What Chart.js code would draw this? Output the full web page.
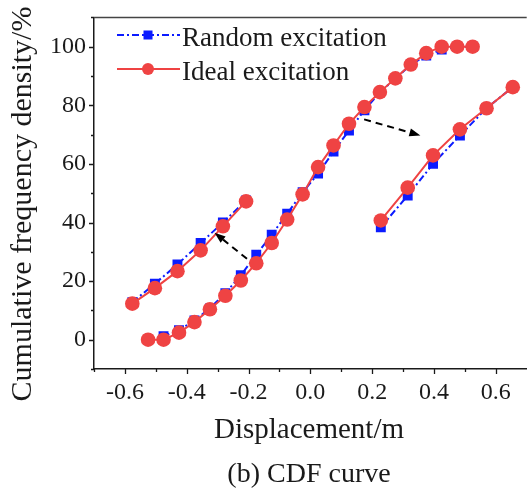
<!DOCTYPE html>
<html>
<head>
<meta charset="utf-8">
<script src="https://cdn.jsdelivr.net/npm/chart.js@4.4.0/dist/chart.umd.min.js"></script>
<style>
  html, body { margin: 0; padding: 0; background: #fff; overflow: hidden; }
  #wrap { position: absolute; left: 0; top: 0; width: 534px; height: 490px; }
</style>
</head>
<body>
<div id="wrap"><canvas id="cdf" width="534" height="490"></canvas></div>
<script>
// main CDF curves
const displacement = [-0.525, -0.475, -0.425, -0.375, -0.325, -0.275, -0.225, -0.175, -0.125, -0.075, -0.025,
                      0.025, 0.075, 0.125, 0.175, 0.225, 0.275, 0.325, 0.375, 0.425, 0.475, 0.525];
const randomCdf = [0, 1.2, 3.2, 6.6, 10.7, 15.9, 22, 29, 35.8, 43, 50.3,
                   56.7, 64.2, 71.4, 78.3, 84.5, 89, 93.9, 97, 99, 100, 100];
const idealCdf = [0, 0, 2.4, 6, 10.4, 15, 20.2, 26.1, 33, 41, 49.6,
                  58.9, 66.3, 73.7, 79.4, 84.5, 89.2, 93.9, 97.8, 100, 100, 100];

// enlarged segments drawn beside the curve
const leftZoomX = [-0.576, -0.503, -0.43, -0.355, -0.283, -0.208];
const leftZoomRandom = [12.8, 19.1, 25.7, 33, 40, 47.5];
const leftZoomIdeal = [12.3, 17.6, 23.4, 30.5, 38.7, 47.2];
const rightZoomX = [0.228, 0.315, 0.397, 0.484, 0.57, 0.655];
const rightZoomRandom = [38.4, 49.2, 60, 69.7, 79, 86.2];
const rightZoomIdeal = [40.7, 51.9, 62.9, 71.8, 79, 86.2];

// arrows: [fromX, fromY, toX, toY]
const arrows = [[-0.205, 27.6, -0.31, 36.5], [0.174, 75.2, 0.356, 69.7]];

const xTicks = [-0.6, -0.4, -0.2, 0.0, 0.2, 0.4, 0.6];
const xMinorTicks = [-0.7, -0.5, -0.3, -0.1, 0.1, 0.3, 0.5];
const yTicks = [0, 20, 40, 60, 80, 100];
const yMinorTicks = [-10, 10, 30, 50, 70, 90, 110];
const seriesNames = ['Random excitation', 'Ideal excitation'];

const BLUE = '#0b1bff';
const RED = '#ef4343';
const INK = '#1a1a1a';
const SERIF = '"Liberation Serif", "Times New Roman", serif';
const DASHDOT = [7, 3, 2, 3];

const pts = (xs, ys) => xs.map((x, i) => ({ x: x, y: ys[i] }));

function randomSet(data) {
  return {
    data: data, showLine: true, order: 2,
    borderColor: BLUE, backgroundColor: BLUE, borderWidth: 2, borderDash: DASHDOT,
    pointStyle: 'rect', pointRadius: 7, pointBorderWidth: 0
  };
}
function idealSet(data) {
  return {
    data: data, showLine: true, order: 1,
    borderColor: RED, backgroundColor: RED, borderWidth: 2,
    pointStyle: 'circle', pointRadius: 7.3, pointBorderWidth: 0
  };
}

const decor = {
  id: 'decor',
  afterDatasetsDraw(chart) {
    const ctx = chart.ctx, xs = chart.scales.x, ys = chart.scales.y;
    ctx.save();
    ctx.strokeStyle = '#000';
    ctx.fillStyle = '#000';
    ctx.lineWidth = 2;
    arrows.forEach(a => {
      const x1 = xs.getPixelForValue(a[0]), y1 = ys.getPixelForValue(a[1]);
      const x2 = xs.getPixelForValue(a[2]), y2 = ys.getPixelForValue(a[3]);
      const ang = Math.atan2(y2 - y1, x2 - x1);
      const hl = 11;
      ctx.setLineDash([7, 5]);
      ctx.beginPath();
      ctx.moveTo(x1, y1);
      ctx.lineTo(x2 - hl * Math.cos(ang), y2 - hl * Math.sin(ang));
      ctx.stroke();
      ctx.setLineDash([]);
      ctx.beginPath();
      ctx.moveTo(x2, y2);
      ctx.lineTo(x2 - hl * Math.cos(ang) + 4 * Math.sin(ang), y2 - hl * Math.sin(ang) - 4 * Math.cos(ang));
      ctx.lineTo(x2 - hl * Math.cos(ang) - 4 * Math.sin(ang), y2 - hl * Math.sin(ang) + 4 * Math.cos(ang));
      ctx.closePath();
      ctx.fill();
    });
    ctx.restore();
  },
  afterDraw(chart) {
    const ctx = chart.ctx, area = chart.chartArea;
    const xs = chart.scales.x, ys = chart.scales.y;
    ctx.save();

    // frame top
    ctx.strokeStyle = '#444';
    ctx.lineWidth = 1.5;
    ctx.beginPath();
    ctx.moveTo(area.left, area.top);
    ctx.lineTo(area.right, area.top);
    ctx.stroke();

    // outward ticks: major 5px, minor 3px
    ctx.strokeStyle = INK;
    ctx.lineWidth = 1.3;
    ctx.beginPath();
    const xTick = (v, len) => {
      const px = Math.round(xs.getPixelForValue(v)) + 0.5;
      ctx.moveTo(px, area.bottom);
      ctx.lineTo(px, area.bottom + len);
    };
    const yTick = (v, len) => {
      const py = Math.round(ys.getPixelForValue(v)) + 0.5;
      ctx.moveTo(area.left, py);
      ctx.lineTo(area.left - len, py);
    };
    xTicks.forEach(v => xTick(v, 5));
    xMinorTicks.forEach(v => xTick(v, 3));
    yTicks.forEach(v => yTick(v, 5));
    yMinorTicks.forEach(v => yTick(v, 3));
    ctx.stroke();

    // legend
    const rows = [
      { y: 35, color: BLUE, dash: DASHDOT, shape: 'rect' },
      { y: 69, color: RED, dash: [], shape: 'circle' }
    ];
    rows.forEach((r, i) => {
      ctx.strokeStyle = r.color;
      ctx.fillStyle = r.color;
      ctx.lineWidth = 2;
      ctx.setLineDash(r.dash);
      ctx.beginPath();
      ctx.moveTo(117, r.y);
      ctx.lineTo(180, r.y);
      ctx.stroke();
      ctx.setLineDash([]);
      if (r.shape === 'rect') {
        ctx.fillRect(148 - 4.5, r.y - 4.5, 9, 9);
      } else {
        ctx.beginPath();
        ctx.arc(148, r.y, 6, 0, Math.PI * 2);
        ctx.fill();
      }
      ctx.fillStyle = INK;
      ctx.font = '27px ' + SERIF;
      ctx.textAlign = 'left';
      ctx.textBaseline = 'alphabetic';
      ctx.fillText(seriesNames[i], 182, r.y + 11);
    });

    // axis titles and caption
    ctx.fillStyle = INK;
    ctx.textAlign = 'center';
    ctx.font = '29px ' + SERIF;
    ctx.fillText('Displacement/m', 309, 438);
    ctx.font = '28px ' + SERIF;
    ctx.fillText('(b) CDF curve', 309, 482);
    ctx.translate(31, 204);
    ctx.rotate(-Math.PI / 2);
    ctx.font = '30px ' + SERIF;
    ctx.fillText('Cumulative frequency density/%', 0, 0);
    ctx.restore();
  }
};

new Chart(document.getElementById('cdf'), {
  type: 'scatter',
  data: {
    datasets: [
      idealSet(pts(displacement, idealCdf)),
      randomSet(pts(displacement, randomCdf)),
      idealSet(pts(leftZoomX, leftZoomIdeal)),
      randomSet(pts(leftZoomX, leftZoomRandom)),
      idealSet(pts(rightZoomX, rightZoomIdeal)),
      randomSet(pts(rightZoomX, rightZoomRandom))
    ]
  },
  options: {
    responsive: false,
    animation: false,
    layout: { padding: { top: 16, right: 3, left: 0, bottom: 0 } },
    plugins: { legend: { display: false }, tooltip: { enabled: false } },
    scales: {
      x: {
        type: 'linear', min: -0.7, max: 0.7,
        afterBuildTicks: s => { s.ticks = xTicks.map(v => ({ value: v })); },
        afterFit: s => { s.height = 121; },
        border: { display: true, color: INK, width: 1.5 },
        grid: { display: false, drawTicks: true, tickLength: 5 },
        ticks: {
          color: INK, padding: 4, maxRotation: 0, autoSkip: false,
          font: { family: SERIF, size: 24 },
          callback: v => v.toFixed(1)
        }
      },
      y: {
        min: -10, max: 110,
        afterBuildTicks: s => { s.ticks = yTicks.map(v => ({ value: v })); },
        afterFit: s => { s.width = 94; },
        border: { display: true, color: INK, width: 1.5 },
        grid: { display: false, drawTicks: true, tickLength: 5 },
        ticks: {
          color: INK, padding: 3,
          font: { family: SERIF, size: 24 },
          callback: v => String(v)
        }
      }
    }
  },
  plugins: [decor]
});
</script>
</body>
</html>
